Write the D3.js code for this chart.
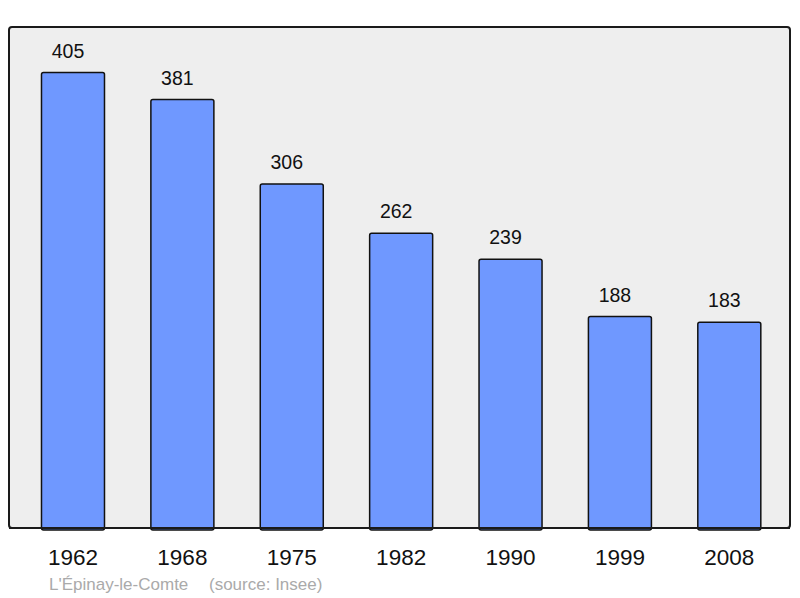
<!DOCTYPE html>
<html><head><meta charset="utf-8">
<script src="https://cdn.jsdelivr.net/npm/d3@7"></script>
<style>body{margin:0;background:#fff}svg{display:block}</style>
</head><body>
<script>
const years = ["1962","1968","1975","1982","1990","1999","2008"];
const population = [405,381,306,262,239,188,183];
const caption = "L'Épinay-le-Comte";
const source = "(source: Insee)";

const W = 800, H = 598;
const svg = d3.select("body").append("svg").attr("width", W).attr("height", H);
const font = "'Liberation Sans', Arial, sans-serif";

svg.append("rect").attr("x",9).attr("y",27).attr("width",781).attr("height",501)
  .attr("rx",3).attr("fill","#eeeeee").attr("stroke","#1a1a1a").attr("stroke-width",2);

const x = d3.scaleBand().domain(years).range([18.3, 784]).paddingInner(0.424).paddingOuter(0.212);
const y = d3.scaleLinear().domain([0, 445.5]).range([528, 27]);

const data = years.map((yr,i)=>({yr, v:population[i]}));

svg.selectAll("rect.bar").data(data).enter().append("rect").attr("class","bar")
  .attr("x", d=>x(d.yr)).attr("width", x.bandwidth())
  .attr("y", d=>y(d.v)).attr("height", d=>y(0)-y(d.v)+2)
  .attr("rx",2)
  .attr("fill","#6f98ff").attr("stroke","#111").attr("stroke-width",1.5);

svg.append("line").attr("x1",9).attr("x2",790).attr("y1",528).attr("y2",528)
  .attr("stroke","#1a1a1a").attr("stroke-width",2);

svg.selectAll("text.val").data(data).enter().append("text").attr("class","val")
  .attr("x", d=>x(d.yr)+x.bandwidth()/2-5).attr("y", d=>y(d.v)-15)
  .attr("text-anchor","middle").attr("font-family",font).attr("font-size",19.5)
  .attr("fill","#111").text(d=>d.v);

const xAxis = d3.axisBottom(x).tickSize(0).tickPadding(0);
const ax = svg.append("g").attr("transform","translate(0,528)").call(xAxis);
ax.select(".domain").remove();
ax.selectAll("text").attr("font-family",font).attr("font-size",22.5).attr("fill","#111")
  .attr("dy",null).attr("y",37);

svg.append("text").attr("x",49).attr("y",590).attr("font-family",font).attr("font-size",17)
  .attr("fill","#aaaaaa").text(caption);
svg.append("text").attr("x",209).attr("y",590).attr("font-family",font).attr("font-size",17)
  .attr("fill","#aaaaaa").text(source);
</script>
</body></html>
